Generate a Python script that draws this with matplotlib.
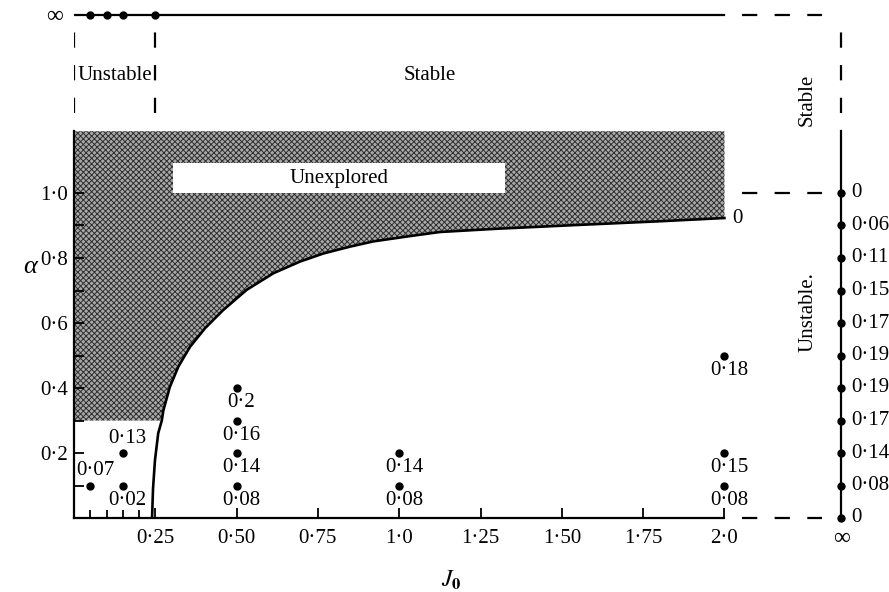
import numpy as np
import matplotlib
matplotlib.use('Agg')
import matplotlib.pyplot as plt
from matplotlib.patches import Polygon, Rectangle
from matplotlib.ticker import FixedLocator

plt.rcParams['font.family'] = ['Liberation Serif', 'DejaVu Serif']
plt.rcParams['mathtext.fontset'] = 'stix'
plt.rcParams['lines.scale_dashes'] = False
plt.rcParams['hatch.linewidth'] = 0.7

# ---------------- data ----------------
# stability boundary (label "0" at its end)
curve_J0 = [0.240, 0.243, 0.249, 0.259, 0.270, 0.275, 0.295, 0.321, 0.357,
            0.403, 0.459, 0.531, 0.613, 0.695, 0.767, 0.849, 0.920, 1.023,
            1.125, 1.300, 1.556, 1.800, 2.0]
curve_alpha = [0.0, 0.09, 0.178, 0.261, 0.30, 0.332, 0.404, 0.466, 0.527,
               0.584, 0.640, 0.702, 0.753, 0.789, 0.814, 0.835, 0.851, 0.866,
               0.880, 0.890, 0.902, 0.913, 0.923]
curve_label = '0'

# unexplored region limits
unexplored_top = 1.19
unexplored_floor = 0.30
unexplored_box_J0 = [0.304, 1.325]
unexplored_box_alpha = [1.0, 1.092]

# measured points (J0, alpha) with growth-rate labels
pt_J0 = [0.05, 0.15, 0.15, 0.5, 0.5, 0.5, 0.5, 1.0, 1.0, 2.0, 2.0, 2.0]
pt_alpha = [0.1, 0.1, 0.2, 0.1, 0.2, 0.3, 0.4, 0.1, 0.2, 0.1, 0.2, 0.5]
pt_labels = ['0·07', '0·02', '0·13', '0·08', '0·14', '0·16', '0·2',
             '0·08', '0·14', '0·08', '0·15', '0·18']
pt_label_side = ['above', 'below', 'above', 'below', 'below', 'below', 'below',
                 'below', 'below', 'below', 'below', 'below']

# points on the alpha = infinity line
inf_alpha_J0 = [0.05, 0.10, 0.15, 0.25]
# points on the J0 = infinity line
inf_J0_alpha = [0.0, 0.1, 0.2, 0.3, 0.4, 0.5, 0.6, 0.7, 0.8, 0.9, 1.0]
inf_J0_labels = ['0', '0·08', '0·14', '0·17', '0·19', '0·19', '0·17',
                 '0·15', '0·11', '0·06', '0']

x_ticks = [0.25, 0.50, 0.75, 1.0, 1.25, 1.50, 1.75, 2.0]
x_ticklabels = ['0·25', '0·50', '0·75', '1·0', '1·25', '1·50', '1·75', '2·0']
x_minor_ticks = [0.05, 0.10, 0.15, 0.20]
y_ticks = [0.1, 0.2, 0.3, 0.4, 0.5, 0.6, 0.7, 0.8, 0.9, 1.0]
y_ticklabels = ['', '0·2', '', '0·4', '', '0·6', '', '0·8', '', '1·0']

# ---------------- layout constants ----------------
J_INF = 2.36          # x position standing for J0 = infinity
A_INF = 1.548         # y position standing for alpha = infinity
DASH_LO, DASH_HI = 1.246, 1.495
FS = 15
LW = 1.6
DASH = (11, 12.5)

fig = plt.figure(figsize=(8.89, 5.92), dpi=100)
ax = fig.add_axes([74 / 889, 74 / 592, 813 / 889, 520 / 592])
ax.set_xlim(0, 2.5)
ax.set_ylim(0, 1.6)

for s in ['top', 'right']:
    ax.spines[s].set_visible(False)
ax.spines['left'].set_bounds(0, unexplored_top)
ax.spines['bottom'].set_bounds(0, x_ticks[-1])
ax.spines['left'].set_linewidth(LW)
ax.spines['bottom'].set_linewidth(LW)

ax.xaxis.set_major_locator(FixedLocator(x_ticks))
ax.set_xticklabels(x_ticklabels)
ax.xaxis.set_minor_locator(FixedLocator(x_minor_ticks))
ax.yaxis.set_major_locator(FixedLocator(y_ticks))
ax.set_yticklabels(y_ticklabels)
ax.tick_params(axis='x', which='major', direction='in', length=7, width=1.3,
               pad=8, labelsize=FS)
ax.tick_params(axis='x', which='minor', direction='in', length=6, width=1.3)
ax.tick_params(axis='y', which='major', direction='in', length=7, width=1.3,
               pad=4.5, labelsize=FS)

# shaded unexplored region
poly = [(0, unexplored_top), (0, unexplored_floor)]
poly += [(j, a) for j, a in zip(curve_J0, curve_alpha) if a >= unexplored_floor]
poly += [(curve_J0[-1], unexplored_top)]
ax.add_patch(Polygon(poly, closed=True, facecolor='#a8a8a8', edgecolor='#2e2e2e',
                     hatch='xxxxxx', lw=0, zorder=1))
ax.add_patch(Rectangle((unexplored_box_J0[0], unexplored_box_alpha[0]),
                       unexplored_box_J0[1] - unexplored_box_J0[0],
                       unexplored_box_alpha[1] - unexplored_box_alpha[0],
                       facecolor='white', edgecolor='none', zorder=2))
ax.text(np.mean(unexplored_box_J0), np.mean(unexplored_box_alpha), 'Unexplored',
        ha='center', va='center', fontsize=FS, zorder=3)

# boundary curve
ax.plot(curve_J0, curve_alpha, color='black', lw=1.9, zorder=4,
        solid_joinstyle='round')
ax.annotate(curve_label, (curve_J0[-1], curve_alpha[-1]), xytext=(6, 0),
            textcoords='offset points', ha='left', va='center', fontsize=FS)

# measured points
ax.plot(pt_J0, pt_alpha, 'o', color='black', ms=5, zorder=5)
for j, a, lab, side in zip(pt_J0, pt_alpha, pt_labels, pt_label_side):
    dy = 10.5 if side == 'above' else -10.5
    ax.annotate(lab, (j, a), xytext=(3.6, dy), textcoords='offset points',
                ha='center', va='center', fontsize=FS)

# alpha = infinity line
ax.plot([0, x_ticks[-1]], [A_INF, A_INF], color='black', lw=LW)
ax.plot([2.055, 2.30], [A_INF, A_INF], color='black', lw=LW, dashes=DASH)
ax.plot(inf_alpha_J0, [A_INF] * len(inf_alpha_J0), 'o', color='black', ms=5)
ax.annotate('∞', (0, A_INF), xytext=(-8, -1.5), textcoords='offset points',
            ha='right', va='center', fontsize=17)

# dashed separators at the top
for xv in [0, inf_alpha_J0[-1]]:
    ax.plot([xv, xv], [DASH_LO, DASH_HI], color='black', lw=LW, dashes=DASH)
ax.text(inf_alpha_J0[-1] / 2, 1.363, 'Unstable', ha='center', va='center', fontsize=FS)
ax.text(1.095, 1.363, 'Stable', ha='center', va='center', fontsize=FS)

# J0 = infinity line
ax.plot([J_INF, J_INF], [0, unexplored_top], color='black', lw=LW)
ax.plot([J_INF, J_INF], [DASH_LO, DASH_HI], color='black', lw=LW, dashes=DASH)
ax.plot([J_INF] * len(inf_J0_alpha), inf_J0_alpha, 'o', color='black', ms=5,
        clip_on=False, zorder=5)
for a, lab in zip(inf_J0_alpha, inf_J0_labels):
    ax.annotate(lab, (J_INF, a), xytext=(7, 0), textcoords='offset points',
                ha='left', va='center', fontsize=FS)
ax.annotate('∞', (J_INF, 0), xytext=(0, -15), textcoords='offset points',
            ha='center', va='center', fontsize=17, annotation_clip=False)
for av in [0.0, 1.0]:
    ax.plot([2.055, 2.30], [av, av], color='black', lw=LW, dashes=DASH, clip_on=False)
ax.text(2.254, 1.286, 'Stable', rotation=90, ha='center', va='center', fontsize=FS)
ax.text(2.257, 0.634, 'Unstable.', rotation=90, ha='center', va='center', fontsize=FS)

# axis labels
ax.set_ylabel('α', rotation=0, fontsize=19, va='center', ha='center', style='italic')
ax.yaxis.set_label_coords(-0.054, 0.483)
ax.set_xlabel(r'$J_\mathbf{0}$', fontsize=17, va='center', ha='center')
ax.xaxis.set_label_coords(0.464, -0.119)

fig.savefig('out.png', dpi=100)
